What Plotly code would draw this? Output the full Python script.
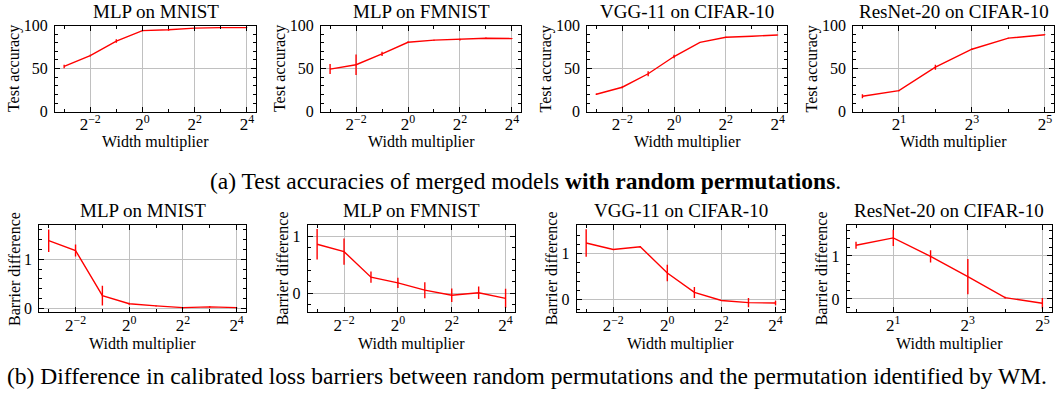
import math
import plotly.graph_objects as go

W, H = 1057, 395
FONT = "Liberation Serif"

# Width multipliers
widths_small = [0.125, 0.25, 0.5, 1, 2, 4, 8, 16]
widths_resnet = [1, 2, 4, 8, 16, 32]

# (a) Test accuracy of merged models with random permutations (mean, std)
acc_mlp_mnist = [52.5, 65.0, 82.0, 94.0, 95.0, 97.0, 97.5, 97.5]
acc_mlp_mnist_err = [2.0, 1.0, 2.0, 0.8, 1.0, 0.5, 0.3, 0.3]
acc_mlp_fmnist = [49.4, 54.5, 67.0, 80.5, 83.0, 83.7, 85.2, 84.8]
acc_mlp_fmnist_err = [5.8, 12.0, 2.5, 0.8, 0.6, 1.0, 0.8, 0.5]
acc_vgg_cifar = [20.2, 28.4, 44.0, 64.0, 80.5, 86.4, 87.5, 89.0]
acc_vgg_cifar_err = [0.8, 1.2, 3.0, 2.0, 0.5, 0.5, 0.3, 0.3]
acc_resnet_cifar = [17.9, 24.4, 51.6, 72.5, 85.3, 89.2]
acc_resnet_cifar_err = [2.3, 0.8, 3.0, 0.8, 0.5, 0.3]

# (b) Barrier difference: random permutations vs. WM permutation (mean, std)
bar_mlp_mnist = [1.38, 1.18, 0.26, 0.095, 0.05, 0.015, 0.03, 0.015]
bar_mlp_mnist_err = [0.23, 0.12, 0.20, 0.02, 0.01, 0.01, 0.015, 0.01]
bar_mlp_fmnist = [0.86, 0.73, 0.28, 0.18, 0.05, -0.04, 0.005, -0.095]
bar_mlp_fmnist_err = [0.27, 0.23, 0.10, 0.09, 0.14, 0.12, 0.11, 0.17]
bar_vgg_cifar = [1.23, 1.09, 1.15, 0.58, 0.16, -0.015, -0.06, -0.07]
bar_vgg_cifar_err = [0.30, 0.01, 0.01, 0.18, 0.12, 0.01, 0.10, 0.05]
bar_resnet_cifar = [1.25, 1.42, 0.99, 0.52, 0.03, -0.10]
bar_resnet_cifar_err = [0.08, 0.19, 0.14, 0.41, 0.02, 0.125]

titles = ["MLP on MNIST", "MLP on FMNIST", "VGG-11 on CIFAR-10", "ResNet-20 on CIFAR-10"]

# panel boxes in pixels: (left, right, top, bottom)
boxes_top = [(55, 256, 25.5, 111.7), (321, 521, 25.5, 111.7),
             (587.3, 786.7, 25.5, 111.7), (853.3, 1054, 25.5, 111.7)]
boxes_bot = [(39.3, 246, 225, 312.3), (307.7, 515, 225, 312.3),
             (576.7, 785, 225, 312.3), (846.7, 1051.7, 225, 312.3)]

ylims_bot = [(-0.08, 1.70), (-0.34, 1.20), (-0.27, 1.62), (-0.31, 1.72)]


def sup(k):
    s = str(k).replace("-", "\u2212")
    return "2<sup>" + s + "</sup>"


def px_x(v):
    return v / W


def px_y(v):
    return 1 - v / H


fig = go.Figure()
annotations = []

panels = [
    (widths_small, acc_mlp_mnist, acc_mlp_mnist_err, boxes_top[0], (0, 100), "top", titles[0]),
    (widths_small, acc_mlp_fmnist, acc_mlp_fmnist_err, boxes_top[1], (0, 100), "top", titles[1]),
    (widths_small, acc_vgg_cifar, acc_vgg_cifar_err, boxes_top[2], (0, 100), "top", titles[2]),
    (widths_resnet, acc_resnet_cifar, acc_resnet_cifar_err, boxes_top[3], (0, 100), "top", titles[3]),
    (widths_small, bar_mlp_mnist, bar_mlp_mnist_err, boxes_bot[0], ylims_bot[0], "bot", titles[0]),
    (widths_small, bar_mlp_fmnist, bar_mlp_fmnist_err, boxes_bot[1], ylims_bot[1], "bot", titles[1]),
    (widths_small, bar_vgg_cifar, bar_vgg_cifar_err, boxes_bot[2], ylims_bot[2], "bot", titles[2]),
    (widths_resnet, bar_resnet_cifar, bar_resnet_cifar_err, boxes_bot[3], ylims_bot[3], "bot", titles[3]),
]

for i, (xs, ys, es, box, ylim, row, title) in enumerate(panels, start=1):
    left, right, top, bottom = box
    xa = "x" if i == 1 else f"x{i}"
    ya = "y" if i == 1 else f"y{i}"
    xkey = "xaxis" if i == 1 else f"xaxis{i}"
    ykey = "yaxis" if i == 1 else f"yaxis{i}"

    fig.add_trace(go.Scatter(
        x=xs, y=ys, mode="lines", xaxis=xa, yaxis=ya, showlegend=False,
        line=dict(color="#ff0000", width=1.4),
        error_y=dict(type="data", array=es, visible=True, width=0,
                     thickness=1.4, color="#ff0000"),
    ))

    lo = math.log2(xs[0])
    hi = math.log2(xs[-1])
    pad = 0.05 * (hi - lo)
    xr = [(lo - pad) * math.log10(2), (hi + pad) * math.log10(2)]
    kmin, kmax = int(lo), int(hi)
    if xs is widths_resnet:
        major = [k for k in range(kmin, kmax + 1) if k % 2 == 1]
    else:
        major = [k for k in range(kmin, kmax + 1) if k % 2 == 0]
    minor = [2.0 ** k for k in range(kmin, kmax + 1) if k not in major]

    axis_common = dict(
        showline=True, linecolor="black", linewidth=1, mirror="ticks",
        ticks="inside", ticklen=5, tickwidth=1, tickcolor="black",
        showgrid=True, gridcolor="#c0c0c0", gridwidth=1, zeroline=False,
        automargin=False,
    )
    fig.layout[xkey] = dict(
        axis_common, type="log", range=xr, anchor=ya,
        domain=[px_x(left), px_x(right)],
        tickmode="array", tickvals=[2.0 ** k for k in major],
        ticktext=[sup(k) for k in major], ticklabelstandoff=-3,
        tickfont=dict(family=FONT, size=17, color="black"),
        minor=dict(tickmode="array", tickvals=minor, ticks="inside",
                   ticklen=3, tickcolor="black", showgrid=False),
    )
    if row == "top":
        yt = dict(tickmode="array", tickvals=[0, 50, 100], ticktext=["0", "50", "100"],
                  minor=dict(dtick=10, tick0=0, ticks="inside", ticklen=3,
                             tickcolor="black", showgrid=False))
    else:
        yt = dict(tickmode="array", tickvals=[0, 1], ticktext=["0", "1"],
                  minor=dict(dtick=0.2, tick0=0, ticks="inside", ticklen=3,
                             tickcolor="black", showgrid=False))
    fig.layout[ykey] = dict(
        axis_common, range=list(ylim), anchor=xa,
        domain=[px_y(bottom), px_y(top)], ticklabelstandoff=3,
        tickfont=dict(family=FONT, size=16, color="black"), **yt,
    )

    cx = (left + right) / 2
    cy = (top + bottom) / 2
    # panel title
    annotations.append(dict(
        text=title, x=px_x(cx), y=px_y(top - 14), xref="paper", yref="paper",
        xanchor="center", yanchor="middle", showarrow=False,
        font=dict(family=FONT, size=19, color="black"),
    ))
    # x-axis title
    annotations.append(dict(
        text="Width multiplier", x=px_x(cx), y=px_y(bottom + (30 if row == "top" else 32)),
        xref="paper", yref="paper", xanchor="center", yanchor="middle", showarrow=False,
        font=dict(family=FONT, size=16, color="black"),
    ))
    # y-axis title
    annotations.append(dict(
        text="Test accuracy" if row == "top" else "Barrier difference",
        x=px_x(left - (41.5 if row == "top" else 25)), y=px_y(cy),
        xref="paper", yref="paper", xanchor="center", yanchor="middle",
        textangle=-90, showarrow=False,
        font=dict(family=FONT, size=16, color="black"),
    ))

# sub-figure captions
annotations.append(dict(
    text="(a) Test accuracies of merged models <b>with random permutations</b>.",
    x=px_x(525), y=px_y(181), xref="paper", yref="paper", xanchor="center", yanchor="middle",
    showarrow=False, font=dict(family=FONT, size=23.5, color="black"),
))
annotations.append(dict(
    text="(b) Difference in calibrated loss barriers between random permutations "
         "and the permutation identified by WM.",
    x=px_x(527), y=px_y(376), xref="paper", yref="paper", xanchor="center", yanchor="middle",
    showarrow=False, font=dict(family=FONT, size=23.5, color="black"),
))

fig.update_layout(
    width=W, height=H, margin=dict(l=0, r=0, t=0, b=0, pad=0),
    autosize=False,
    paper_bgcolor="white", plot_bgcolor="white",
    annotations=annotations,
    font=dict(family=FONT, color="black"),
)

fig.write_html("out.html")
